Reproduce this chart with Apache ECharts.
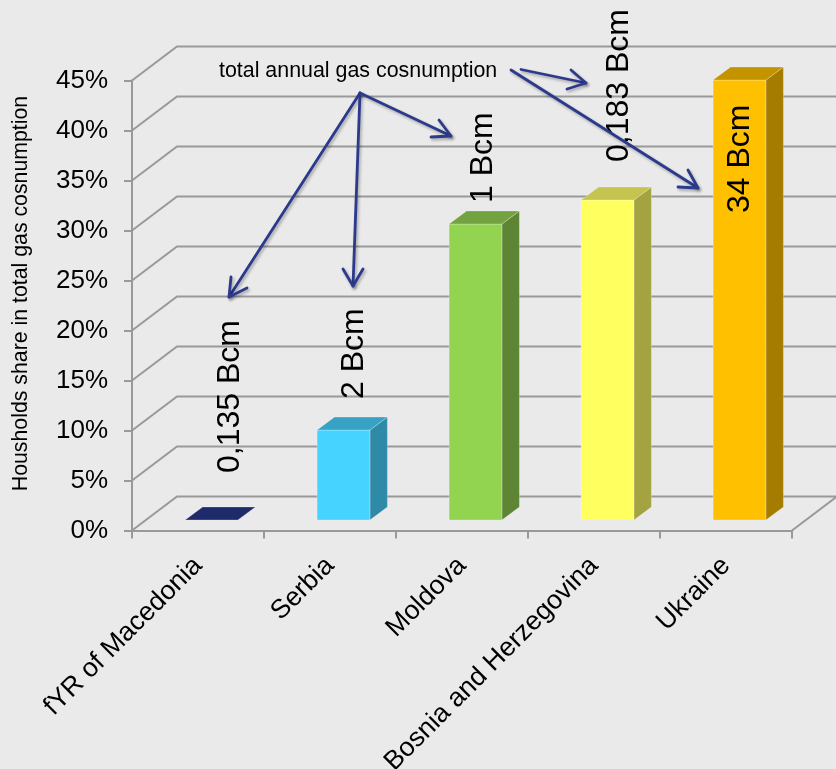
<!DOCTYPE html>
<html>
<head>
<meta charset="utf-8">
<style>html,body{margin:0;padding:0;background:#eaeaea}#c{width:836px;height:769px}</style>
<script src="https://cdn.jsdelivr.net/npm/echarts@6/dist/echarts.min.js"></script>
</head>
<body>
<div id="c"></div>
<script>
const categories = ['fYR of Macedonia','Serbia','Moldova','Bosnia and Herzegovina','Ukraine'];
const shares = [0, 9, 29.6, 32, 44];
const consumption = ['0,135 Bcm','2 Bcm','1 Bcm','0,183 Bcm','34 Bcm'];
const yTicks = [0,5,10,15,20,25,30,35,40,45];
const faceColors = ['#1f2a6b','#47d3ff','#92d350','#ffff5f','#ffc000'];
const topColors  = ['#1f2a6b','#38a2c4','#72a340','#c4c44e','#c49300'];
const sideColors = ['#1f2a6b','#2f8aa8','#5d8534','#a3a341','#a67c00'];
// placement of each rotated label relative to its bar, px
const labelGaps = [47, 31, 21, 38, -133];
const labelShifts = [19, 11, 8, 11.5, 0.5];
const FONT = '"Liberation Sans", Arial, sans-serif';
const GRID = '#999999';
// oblique projection of the chart depth
const WALL_DX = 45, WALL_DY = -34;
const BAR_PLANE_DX = 13.5, BAR_PLANE_DY = -10.5;
const BAR_DX = 17.5, BAR_DY = -13;
const BAR_WIDTH_RATIO = 0.4;

const arrows = [
  [[360,93],[229,297],[231,277],[247,288]],
  [[360,93],[353,286],[343,269],[363,269]],
  [[360,93],[451,136],[439,120],[431,137]],
  [[521,69.5],[586,83],[571,70],[567,89]],
  [[511,70],[698,188],[688,170],[678,187]]
];

function wallItem(params, api) {
  const band = api.size([1,0])[0];
  const p = api.coord([0, api.value(1)]);
  const left = p[0] - band/2, y = p[1];
  const right = left + band*categories.length;
  const style = {stroke: GRID, lineWidth: 2, fill: 'none'};
  const children = [
    {type:'polyline', shape:{points:[[left,y],[left+WALL_DX,y+WALL_DY],[right+WALL_DX,y+WALL_DY]]}, style}
  ];
  if (api.value(1) === 0) {
    children.push({type:'line', shape:{x1:right,y1:y,x2:right+WALL_DX,y2:y+WALL_DY}, style});
  }
  return {type:'group', children};
}

function barItem(params, api) {
  const i = params.dataIndex;
  const band = api.size([1,0])[0];
  const w = band*BAR_WIDTH_RATIO;
  const b = api.coord([i,0]), t = api.coord([i,api.value(1)]);
  const x0 = b[0] + BAR_PLANE_DX - w/2, x1 = x0 + w;
  const yb = b[1] + BAR_PLANE_DY, yt = t[1] + BAR_PLANE_DY;
  const edge = {stroke:'rgba(255,255,255,0.25)', lineWidth:1};
  const children = [];
  if (yb - yt > 0.5) {
    children.push(
      {type:'polygon', shape:{points:[[x1,yt],[x1+BAR_DX,yt+BAR_DY],[x1+BAR_DX,yb+BAR_DY],[x1,yb]]}, style:{fill:sideColors[i],...edge}},
      {type:'rect', shape:{x:x0,y:yt,width:w,height:yb-yt}, style:{fill:faceColors[i],...edge}}
    );
  }
  children.push({type:'polygon', shape:{points:[[x0,yt],[x0+BAR_DX,yt+BAR_DY],[x1+BAR_DX,yt+BAR_DY],[x1,yt]]}, style:{fill:topColors[i],...edge}});
  return {type:'group', children};
}

function labelItem(params, api) {
  const i = params.dataIndex;
  const t = api.coord([i,api.value(1)]);
  return {
    type:'text', z2:50,
    x: t[0] + BAR_PLANE_DX + labelShifts[i],
    y: t[1] + BAR_PLANE_DY - labelGaps[i],
    rotation: Math.PI/2,
    style:{text:consumption[i], fill:'#000', font:'32px '+FONT, textAlign:'left', textVerticalAlign:'middle'}
  };
}

const arrowGraphics = [];
arrows.forEach(a => {
  const sty = {stroke:'#2b3a8c', lineWidth:2.8, fill:'none', lineCap:'round', lineJoin:'round',
    shadowColor:'rgba(0,0,0,0.3)', shadowBlur:3, shadowOffsetX:1.5, shadowOffsetY:2};
  arrowGraphics.push({type:'line', z:100, shape:{x1:a[0][0],y1:a[0][1],x2:a[1][0],y2:a[1][1]}, style:sty});
  arrowGraphics.push({type:'polyline', z:100, shape:{points:[a[2],a[1],a[3]]}, style:sty});
});
arrowGraphics.push({type:'text', z:100, x:219, y:71, style:{text:'total annual gas cosnumption', fill:'#000', font:'21.4px '+FONT, textAlign:'left', textVerticalAlign:'middle'}});

const chart = echarts.init(document.getElementById('c'), null, {renderer:'canvas'});
chart.setOption({
  animation:false,
  backgroundColor:'#eaeaea',
  textStyle:{fontFamily:FONT},
  grid:{left:132, right:44, top:80.5, bottom:238.5, containLabel:false, outerBoundsMode:'none'},
  xAxis:{
    type:'category', data:categories,
    axisLine:{show:true, onZero:true, lineStyle:{color:GRID,width:2}},
    axisTick:{show:true, alignWithLabel:false, length:8, lineStyle:{color:GRID,width:2}},
    axisLabel:{color:'#000', fontSize:26.6, rotate:45, margin:31, interval:0, fontFamily:FONT},
    splitLine:{show:false}
  },
  yAxis:{
    type:'value', min:0, max:45, interval:5,
    name:'Housholds share in total gas cosnumption',
    nameLocation:'middle', nameGap:100, nameRotate:90,
    nameTextStyle:{color:'#000', fontSize:21.3, fontFamily:FONT, padding:[0,0,0,24]},
    axisLine:{show:true, lineStyle:{color:GRID,width:2}},
    axisTick:{show:true, length:8, lineStyle:{color:GRID,width:2}},
    axisLabel:{color:'#000', fontSize:26, margin:24, formatter:'{value}%', fontFamily:FONT, padding:[5,0,0,0]},
    splitLine:{show:false}
  },
  graphic:arrowGraphics,
  series:[
    {type:'custom', name:'walls', coordinateSystem:'cartesian2d', z:1, silent:true, clip:false,
     renderItem:wallItem, encode:{x:0,y:1}, data:yTicks.map(v=>[0,v])},
    {type:'custom', name:'Households share', coordinateSystem:'cartesian2d', z:2, silent:true, clip:false,
     renderItem:barItem, encode:{x:0,y:1}, data:shares.map((v,i)=>[i,v])},
    {type:'custom', name:'Annual consumption', coordinateSystem:'cartesian2d', z:3, silent:true, clip:false,
     renderItem:labelItem, encode:{x:0,y:1}, data:shares.map((v,i)=>[i,v])}
  ]
});
</script>
</body>
</html>
